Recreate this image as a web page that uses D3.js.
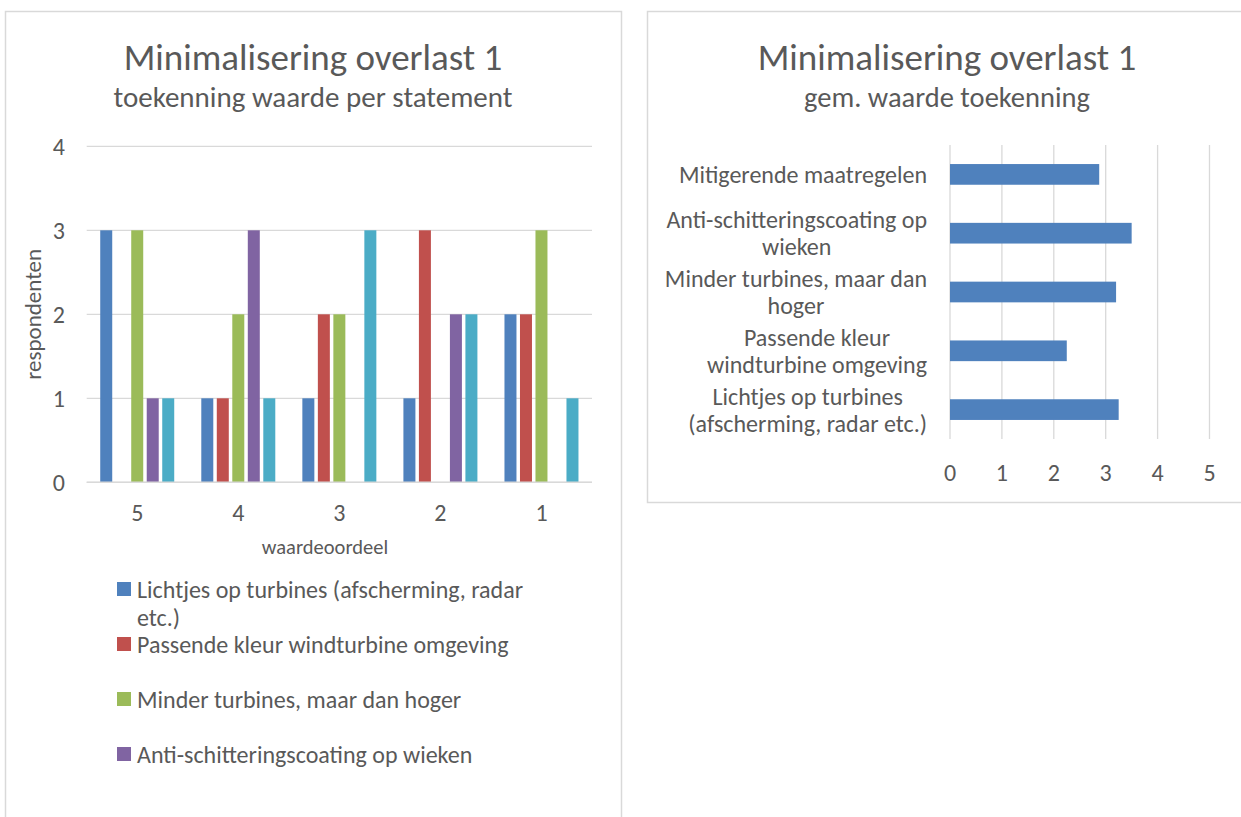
<!DOCTYPE html>
<html><head><meta charset="utf-8">
<script src="https://cdn.jsdelivr.net/npm/d3@7"></script>
<style>
body{margin:0;background:#fff;overflow:hidden}
text{font-family:Carlito, Lato, "Open Sans", sans-serif; fill:#595959}
</style>
</head><body>
<svg id="c" width="1241" height="817"></svg>
<script>
// ---------- data ----------
const categories = ["5", "4", "3", "2", "1"];
const seriesNames = [
  "Lichtjes op turbines (afscherming, radar etc.)",
  "Passende kleur windturbine omgeving",
  "Minder turbines, maar dan hoger",
  "Anti-schitteringscoating op wieken",
  "Mitigerende maatregelen"
];
const lichtjesValues   = [3, 1, 1, 1, 2];
const passendeValues   = [0, 1, 2, 3, 2];
const minderValues     = [3, 2, 2, 0, 3];
const antiValues       = [1, 3, 0, 2, 0];
const mitigerendeValues= [1, 1, 3, 2, 1];
const seriesColors = ["#4F81BD", "#C0504D", "#9BBB59", "#8064A2", "#4BACC6"];
const leftYTicks = [0, 1, 2, 3, 4];
const legendLines = [
  ["Lichtjes op turbines (afscherming, radar", "etc.)"],
  ["Passende kleur windturbine omgeving"],
  ["Minder turbines, maar dan hoger"],
  ["Anti-schitteringscoating op wieken"]
];

const avgCategories = ["Mitigerende maatregelen", "Anti-schitteringscoating op wieken",
  "Minder turbines, maar dan hoger", "Passende kleur windturbine omgeving",
  "Lichtjes op turbines (afscherming, radar etc.)"];
const avgLabelLines = [
  ["Mitigerende maatregelen"],
  ["Anti-schitteringscoating op", "wieken"],
  ["Minder turbines, maar dan", "hoger"],
  ["Passende kleur", "windturbine omgeving"],
  ["Lichtjes op turbines", "(afscherming, radar etc.)"]
];
const avgValues = [2.875, 3.5, 3.2, 2.25, 3.25];
const rightXTicks = [0, 1, 2, 3, 4, 5];

const seriesValues = [lichtjesValues, passendeValues, minderValues, antiValues, mitigerendeValues];

// ---------- drawing ----------
const svg = d3.select("#c");
const grid = "#d9d9d9";
const fs = "24px";

svg.append("rect").attr("x", 5.5).attr("y", 11.5).attr("width", 616).attr("height", 900)
  .attr("fill", "#fff").attr("stroke", grid).attr("stroke-width", 1.5);
svg.append("rect").attr("x", 647.5).attr("y", 11.5).attr("width", 700).attr("height", 491)
  .attr("fill", "#fff").attr("stroke", grid).attr("stroke-width", 1.5);

// ===== Left chart =====
const L = svg.append("g");
L.append("text").attr("x", 313).attr("y", 57).attr("text-anchor", "middle")
  .attr("dominant-baseline", "central").style("font-size", "37px").text("Minimalisering overlast 1");
L.append("text").attr("x", 313).attr("y", 97).attr("text-anchor", "middle")
  .attr("dominant-baseline", "central").style("font-size", "29px").text("toekenning waarde per statement");

const x0 = d3.scaleBand().domain(categories).range([86.7, 592]).paddingInner(0).paddingOuter(0);
const x1 = d3.scaleBand().domain(d3.range(seriesNames.length)).range([0, x0.bandwidth()])
  .paddingInner(0.226).paddingOuter(0.873);
const yL = d3.scaleLinear().domain([0, 4]).range([482.3, 146.3]);

L.append("g").selectAll("line").data(leftYTicks).join("line")
  .attr("x1", 86.7).attr("x2", 592)
  .attr("y1", d => yL(d)).attr("y2", d => yL(d))
  .attr("stroke", grid).attr("stroke-width", 1.3);

L.append("g").selectAll("text").data(leftYTicks).join("text")
  .attr("x", 65).attr("y", d => yL(d)).attr("text-anchor", "end")
  .attr("dominant-baseline", "central").style("font-size", fs).text(d => d);

seriesValues.forEach((vals, si) => {
  L.append("g").selectAll("rect").data(vals).join("rect")
    .attr("x", (d, i) => x0(categories[i]) + x1(si))
    .attr("width", x1.bandwidth())
    .attr("y", d => yL(d))
    .attr("height", d => yL(0) - yL(d))
    .attr("fill", seriesColors[si]);
});
L.append("line").attr("x1", 86.7).attr("x2", 592).attr("y1", yL(0)).attr("y2", yL(0))
  .attr("stroke", grid).attr("stroke-width", 1.5);

L.append("g").selectAll("text").data(categories).join("text")
  .attr("x", d => x0(d) + x0.bandwidth() / 2).attr("y", 512)
  .attr("text-anchor", "middle").attr("dominant-baseline", "central")
  .style("font-size", fs).text(d => d);

L.append("text").attr("x", 325).attr("y", 547).attr("text-anchor", "middle")
  .attr("dominant-baseline", "central").style("font-size", "20.5px").text("waardeoordeel");
L.append("text").attr("transform", "translate(33," + yL(2) + ") rotate(-90)")
  .attr("text-anchor", "middle").attr("dominant-baseline", "central")
  .style("font-size", "23px").text("respondenten");

const legendY = [589, 644, 699, 754];
legendLines.forEach((lines, i) => {
  const g = L.append("g");
  g.append("rect").attr("x", 117).attr("y", legendY[i] - 7).attr("width", 14).attr("height", 14)
    .attr("fill", seriesColors[i]);
  lines.forEach((ln, j) => {
    g.append("text").attr("x", 137).attr("y", legendY[i] + j * 28)
      .attr("dominant-baseline", "central").style("font-size", fs).text(ln);
  });
});

// ===== Right chart =====
const R = svg.append("g");
R.append("text").attr("x", 947).attr("y", 57).attr("text-anchor", "middle")
  .attr("dominant-baseline", "central").style("font-size", "37px").text("Minimalisering overlast 1");
R.append("text").attr("x", 947).attr("y", 97).attr("text-anchor", "middle")
  .attr("dominant-baseline", "central").style("font-size", "28.5px").text("gem. waarde toekenning");

const xR = d3.scaleLinear().domain([0, 5]).range([950, 1209.5]);
const yR = d3.scaleBand().domain(avgCategories).range([145, 439]).paddingInner(0.648).paddingOuter(0.324);

R.append("g").selectAll("line").data(rightXTicks).join("line")
  .attr("x1", d => xR(d)).attr("x2", d => xR(d)).attr("y1", 145).attr("y2", 439)
  .attr("stroke", grid).attr("stroke-width", 1.3);

R.append("g").selectAll("text").data(rightXTicks).join("text")
  .attr("x", d => xR(d)).attr("y", 472).attr("text-anchor", "middle")
  .attr("dominant-baseline", "central").style("font-size", fs).text(d => d);

R.append("g").selectAll("rect").data(avgValues).join("rect")
  .attr("x", xR(0)).attr("y", (d, i) => yR(avgCategories[i]))
  .attr("width", d => xR(d) - xR(0)).attr("height", yR.bandwidth())
  .attr("fill", "#4F81BD");

avgLabelLines.forEach((lines, i) => {
  const cy = yR(avgCategories[i]) + yR.bandwidth() / 2;
  const g = R.append("g");
  const texts = lines.map((ln, j) => g.append("text")
    .attr("y", cy + (j - (lines.length - 1) / 2) * 27)
    .attr("text-anchor", "middle").attr("dominant-baseline", "central")
    .style("font-size", fs).text(ln));
  const maxW = d3.max(texts, t => t.node().getComputedTextLength());
  texts.forEach(t => t.attr("x", 927 - maxW / 2));
});
</script>
</body></html>
